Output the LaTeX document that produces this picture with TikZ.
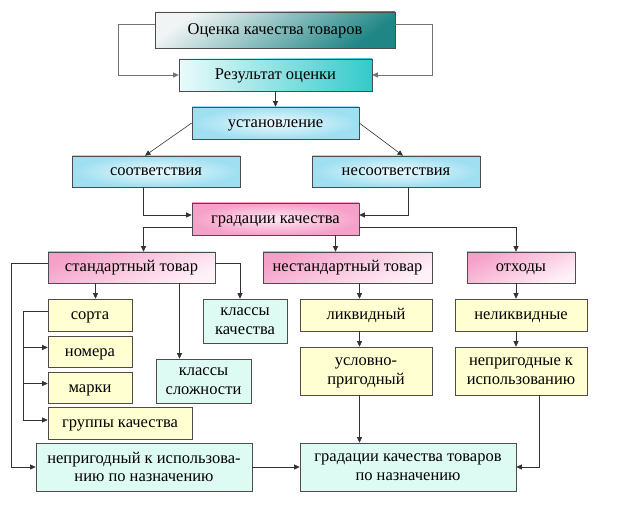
\documentclass[tikz,border=0pt]{standalone}
\usepackage{fontspec}
\setmainfont{Liberation Serif}
\usetikzlibrary{arrows.meta,shadows,positioning}

\definecolor{tealdark}{HTML}{1F8585}
\definecolor{tealpale}{HTML}{F0F4F4}
\definecolor{turqdark}{HTML}{34CACA}
\definecolor{turqpale}{HTML}{EAFBFB}
\definecolor{skyedge}{HTML}{9EDFF1}
\definecolor{skymid}{HTML}{EEFAFD}
\definecolor{pinkedge}{HTML}{F5A0C8}
\definecolor{pinkmid}{HTML}{FFE8F3}
\definecolor{yelbox}{HTML}{FFFFD2}
\definecolor{mintbox}{HTML}{DEFBF3}

\begin{document}
\begin{tikzpicture}[x=1pt,y=-1pt,
    box/.style={draw=black!70,line width=0.6pt,minimum height=31pt,inner sep=1pt,
        font=\fontsize{16.5}{18.5}\selectfont,text height=10.5pt,text depth=1.5pt,
        drop shadow={shadow xshift=1.2pt,shadow yshift=-1.2pt,fill=black,opacity=0.35}},
    dbl/.style={align=center,text height={},text depth=0pt},
    headbox/.style={box,top color=tealpale,bottom color=tealdark,shading angle=35},
    resbox/.style={box,left color=turqpale,right color=turqdark},
    skybox/.style={box,inner color=skymid,outer color=skyedge},
    pinkbox/.style={box,top color=pinkedge,bottom color=pinkmid!60!white,shading angle=25},
    gradbox/.style={box,inner color=pinkmid,outer color=pinkedge},
    yelbox/.style={box,fill=yelbox},
    mintbox/.style={box,fill=mintbox},
    conn/.style={draw=black!80,line width=0.6pt},
    >={Triangle[length=5.5pt,width=5pt]}]
    \useasboundingbox (0,0) rectangle (624,505);
    %% top part
    \node[headbox,minimum width=240pt,minimum height=36pt] (ocenka) at (275,30) {Оценка качества товаров};
    \node[resbox,minimum width=193pt,minimum height=32pt] (rezult) at (275.5,75) {Результат оценки};
    \node[skybox,minimum width=167pt,minimum height=32pt] (ustan) at (275.5,123) {установление};
    \node[skybox,minimum width=168pt] (sootv) at (156,171.5) {соответствия};
    \node[skybox,minimum width=168pt] (nesootv) at (396,171.5) {несоответствия};
    \node[gradbox,minimum width=167pt,minimum height=32pt] (grad) at (275.5,219) {градации качества};
    %% second level
    \node[pinkbox,minimum width=167pt] (standart) at (131.5,267.5) {стандартный товар};
    \node[pinkbox,minimum width=169pt] (nestand) at (347.5,267.5) {нестандартный товар};
    \node[pinkbox,minimum width=108pt] (othody) at (521,267.5) {отходы};
    %% standard goods
    \node[yelbox,minimum width=84pt,minimum height=32pt] (sorta) at (90,315) {сорта};
    \node[yelbox,minimum width=84pt] (nomera) at (90,351.5) {номера};
    \node[yelbox,minimum width=84pt] (marki) at (90,387.5) {марки};
    \node[yelbox,minimum width=144pt,minimum height=32pt] (gruppy) at (120,423) {группы качества};
    \node[mintbox,dbl,minimum width=84pt,minimum height=44pt] (klkach) at (245,321) {классы\\качества};
    \node[mintbox,dbl,minimum width=95pt,minimum height=44pt] (klslozh) at (203.5,381) {классы\\сложности};
    %% non-standard goods and waste
    \node[yelbox,minimum width=132pt,minimum height=32pt] (likv) at (366,315) {ликвидный};
    \node[yelbox,dbl,minimum width=132pt,minimum height=48pt] (uslovno) at (366,371) {условно-\\пригодный};
    \node[yelbox,minimum width=132pt,minimum height=32pt] (nelikv) at (521,315) {неликвидные};
    \node[yelbox,dbl,minimum width=132pt,minimum height=48pt] (neprigodnye) at (521,371) {непригодные к\\использованию};
    %% bottom
    \node[mintbox,dbl,minimum width=216pt,minimum height=48pt] (neprigisp) at (144,467) {непригодный к использова-\\нию по назначению};
    \node[mintbox,dbl,minimum width=216pt,minimum height=48pt] (gradtov) at (408,467) {градации качества товаров\\по назначению};
    %%
    \draw[conn,draw=black!55,->] ([yshift=6pt]ocenka.west) -- ++(-36,0) |- (rezult.west);
    \draw[conn,draw=black!55,->] ([yshift=6pt]ocenka.east) -- ++(37,0) |- (rezult.east);
    \draw[conn,->] (rezult) -- (ustan);
    \draw[conn,->] (ustan.west) -- ([xshift=-11pt]sootv.north);
    \draw[conn,->] (ustan.east) -- ([xshift=7pt]nesootv.north);
    \draw[conn,->] ([xshift=-13pt]sootv.south) |- ([yshift=4pt]grad.west);
    \draw[conn,->] ([xshift=12pt]nesootv.south) |- ([yshift=4pt]grad.east);
    \draw[conn,->] ([yshift=-8pt]grad.west) -| ([xshift=12pt]standart.north);
    \draw[conn,->] ([yshift=-8pt]grad.east) -| ([xshift=-5pt]othody.north);
    \coordinate (gs) at ([xshift=60pt]grad.south);
    \draw[conn,->] (gs) -- (gs |- nestand.north);
    %%
    \draw[conn,->] ([yshift=4pt]standart.west) -| ([xshift=-24pt]neprigisp.west) -- (neprigisp.west);
    \draw[conn,->] ([yshift=4pt]standart.east) -| ([xshift=-5pt]klkach.north);
    \coordinate (ss) at ([xshift=-36pt]standart.south);
    \draw[conn,->] (ss) -- (ss |- sorta.north);
    \coordinate (sk) at ([xshift=48pt]standart.south);
    \draw[conn,->] (sk) -- (sk |- klslozh.north);
    \coordinate (brk) at ([xshift=-24pt]gruppy.west);
    \draw[conn,->] ([yshift=4pt]sorta.west) -| ([yshift=3pt]brk) -- ([yshift=3pt]gruppy.west);
    \draw[conn,->] ([yshift=4pt]brk |- nomera.west) -- ([yshift=4pt]nomera.west);
    \draw[conn,->] ([yshift=4pt]brk |- marki.west) -- ([yshift=4pt]marki.west);
    %%
    \coordinate (ns) at ([xshift=12pt]nestand.south);
    \draw[conn,->] (ns) -- (ns |- likv.north);
    \draw[conn,->] (ns |- likv.south) -- (ns |- uslovno.north);
    \draw[conn,->] (ns |- uslovno.south) -- (ns |- gradtov.north);
    \coordinate (os) at ([xshift=-5pt]othody.south);
    \draw[conn,->] (os) -- (os |- nelikv.north);
    \draw[conn,->] (os |- nelikv.south) -- (os |- neprigodnye.north);
    \draw[conn,->] ([xshift=18pt]neprigodnye.south) |- (gradtov.east);
    \draw[conn,->] (neprigisp) -- (gradtov);
\end{tikzpicture}
\end{document}
